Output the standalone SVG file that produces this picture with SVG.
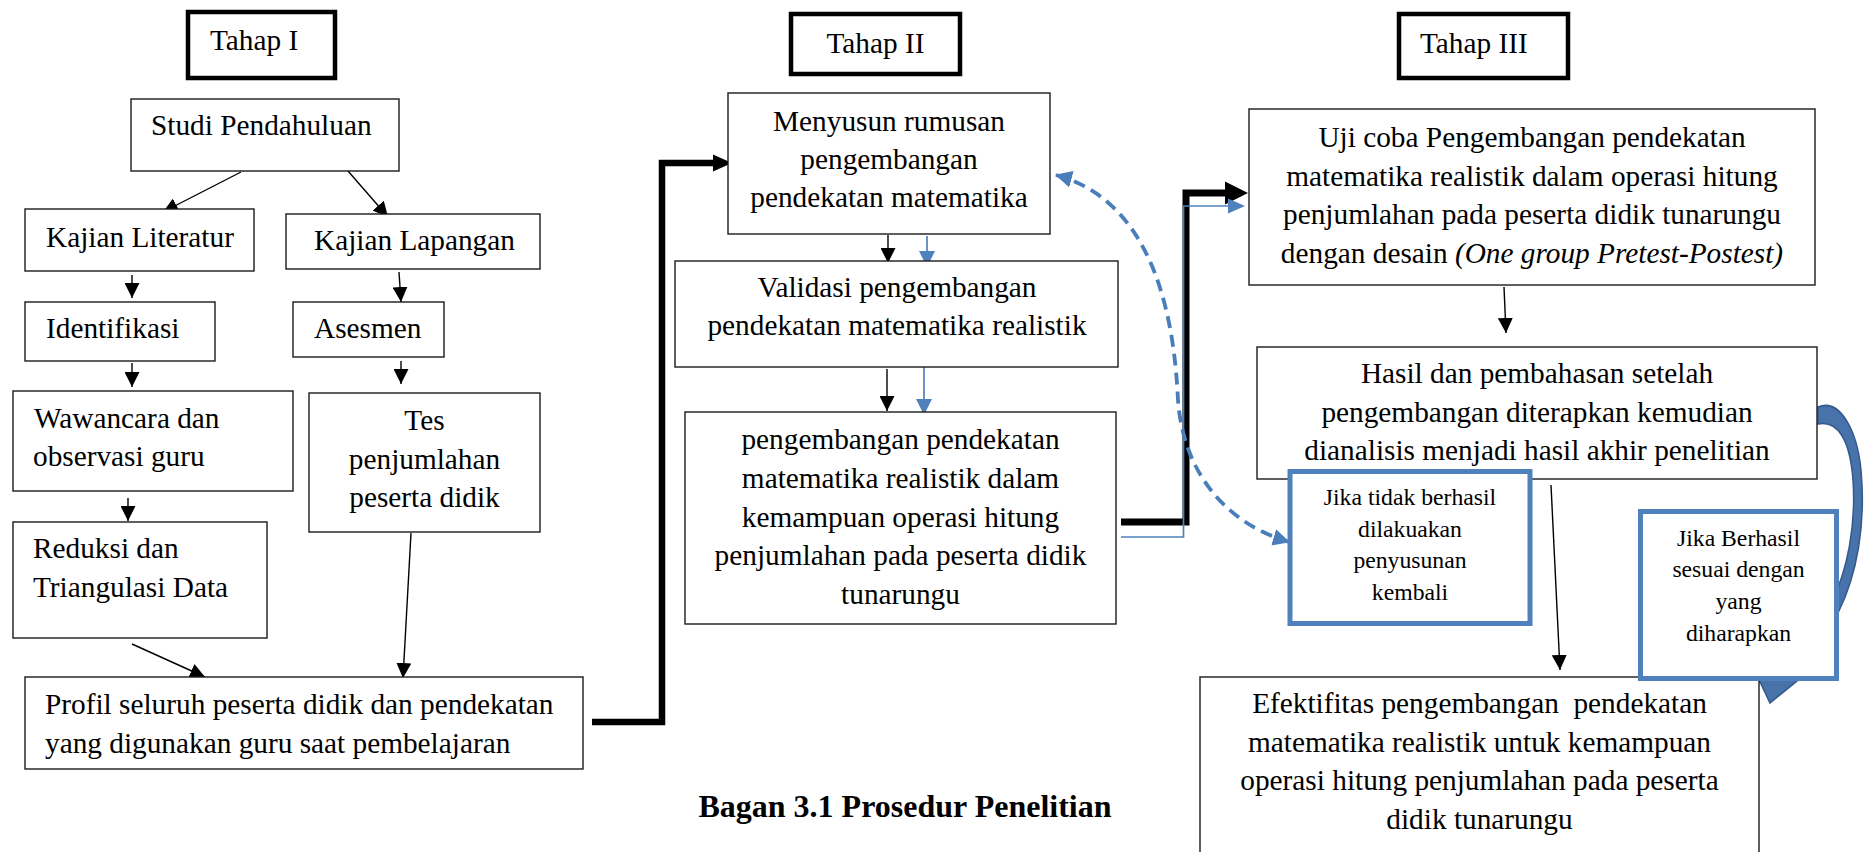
<svg xmlns="http://www.w3.org/2000/svg" width="1864" height="852" viewBox="0 0 1864 852">
<style>
.box{fill:#fff;stroke:#1a1a1a;stroke-width:1.4}
.tahap{fill:#fff;stroke:#000;stroke-width:4.5}
.bbox{fill:#fff;stroke:#4f81bd;stroke-width:5}
.t{font-family:"Liberation Serif","Times New Roman",serif;font-size:29.3px;fill:#000}
.ts{font-size:23.7px}
.c{text-anchor:middle}
.ln{fill:none;stroke:#000;stroke-width:1.4}
.bl{fill:none;stroke:#4f81bd;stroke-width:1.7}
.thick{fill:none;stroke:#000;stroke-linejoin:miter}
.dash{fill:none;stroke:#4a7ebb;stroke-width:3.8;stroke-dasharray:12 7}
</style>
<defs>
<marker id="ah" markerUnits="userSpaceOnUse" viewBox="0 0 15 15" markerWidth="15" markerHeight="15" refX="15" refY="7.5" orient="auto"><path d="M0,0 L15,7.5 L0,15 z" fill="#000"/></marker>
<marker id="ahb" markerUnits="userSpaceOnUse" viewBox="0 0 16 16" markerWidth="16" markerHeight="16" refX="16" refY="8" orient="auto"><path d="M0,0 L16,8 L0,16 z" fill="#4f81bd"/></marker>
<marker id="ahd" markerUnits="userSpaceOnUse" viewBox="0 0 17 17" markerWidth="17" markerHeight="17" refX="16" refY="8.5" orient="auto-start-reverse"><path d="M0,0 L17,8.5 L0,17 z" fill="#4a7ebb"/></marker>
</defs>

<g id="connectors">
  <!-- Tahap I -->
  <path class="ln" d="M241,172 L163,212" marker-end="url(#ah)"/>
  <path class="ln" d="M348,171 L388,217" marker-end="url(#ah)"/>
  <path class="ln" d="M132,275 L132,298" marker-end="url(#ah)"/>
  <path class="ln" d="M399,272 L401,302" marker-end="url(#ah)"/>
  <path class="ln" d="M132,363 L132,387" marker-end="url(#ah)"/>
  <path class="ln" d="M401,361 L401,384" marker-end="url(#ah)"/>
  <path class="ln" d="M128,498 L128,521" marker-end="url(#ah)"/>
  <path class="ln" d="M132,644 L205,677" marker-end="url(#ah)"/>
  <path class="ln" d="M411,533 L403,678" marker-end="url(#ah)"/>
  <!-- Profil to Menyusun -->
  <path class="thick" stroke-width="6.5" d="M592,722 H662 V163 H714"/>
  <polygon points="713,154.5 732,163 713,171.5" fill="#000"/>
  <!-- Tahap II -->
  <path class="ln" d="M888,235 L888,263" marker-end="url(#ah)"/>
  <path class="bl" d="M927,236 L927,267" marker-end="url(#ahb)"/>
  <path class="ln" d="M887,369 L887,411" marker-end="url(#ah)"/>
  <path class="bl" d="M924,367 L924,415" marker-end="url(#ahb)"/>
  <!-- to Tahap III -->
  <path class="thick" stroke-width="7" d="M1121,522 H1186 V193 H1226"/>
  <polygon points="1225,181.5 1248,193 1225,204.5" fill="#000"/>
  <path class="bl" d="M1121,537 H1183.5 V206 H1230"/>
  <polygon points="1228,198.5 1245,206 1228,213.5" fill="#4f81bd"/>
  <!-- dashed feedback -->
  <path class="dash" d="M1056,175 C1130,195 1172,270 1178,400 C1182,460 1215,520 1289,542" marker-start="url(#ahd)" marker-end="url(#ahd)"/>
  <!-- Tahap III -->
  <path class="ln" d="M1504,287 L1506,333" marker-end="url(#ah)"/>
  <path class="ln" d="M1551,485 L1560,670" marker-end="url(#ah)"/>
  <!-- curved success arrow -->
  <path d="M1818,407 C1840,398 1857,430 1861,470 C1866,525 1857,575 1838,613 L1805,668 L1808,672 L1770,703 L1752,665 L1794,664 L1830,606 C1848,570 1856,525 1853,480 C1850,440 1838,420 1818,424 Z" fill="#4772aa" stroke="#345a8c" stroke-width="1.5"/>
</g>

<g id="tahap1">
  <rect class="tahap" x="188" y="12" width="147" height="66"/>
  <text class="t" x="210" y="50">Tahap I</text>
</g>
<g id="tahap2">
  <rect class="tahap" x="791" y="14" width="169" height="60"/>
  <text class="t c" x="875.5" y="53">Tahap II</text>
</g>
<g id="tahap3">
  <rect class="tahap" x="1399" y="14" width="169" height="64"/>
  <text class="t" x="1420" y="53">Tahap III</text>
</g>

<g id="studi">
  <rect class="box" x="131" y="99" width="268" height="72"/>
  <text class="t" x="151" y="135">Studi Pendahuluan</text>
</g>
<g id="kajian-literatur">
  <rect class="box" x="25" y="209" width="229" height="62"/>
  <text class="t" x="46" y="247">Kajian Literatur</text>
</g>
<g id="kajian-lapangan">
  <rect class="box" x="286" y="214" width="254" height="55"/>
  <text class="t" x="314" y="250">Kajian Lapangan</text>
</g>
<g id="identifikasi">
  <rect class="box" x="25" y="302" width="190" height="59"/>
  <text class="t" x="46" y="338">Identifikasi</text>
</g>
<g id="asesmen">
  <rect class="box" x="293" y="302" width="151" height="55"/>
  <text class="t" x="314" y="338">Asesmen</text>
</g>
<g id="wawancara">
  <rect class="box" x="13" y="391" width="280" height="100"/>
  <text class="t" x="34" y="428">Wawancara dan</text>
  <text class="t" x="33" y="466">observasi guru</text>
</g>
<g id="tes">
  <rect class="box" x="309" y="393" width="231" height="139"/>
  <text class="t c" x="424.5" y="430">Tes</text>
  <text class="t c" x="424.5" y="468.5">penjumlahan</text>
  <text class="t c" x="424.5" y="507">peserta didik</text>
</g>
<g id="reduksi">
  <rect class="box" x="13" y="522" width="254" height="116"/>
  <text class="t" x="33" y="558">Reduksi dan</text>
  <text class="t" x="33" y="597">Triangulasi Data</text>
</g>
<g id="profil">
  <rect class="box" x="25" y="677" width="558" height="92"/>
  <text class="t" x="45" y="714">Profil seluruh peserta didik dan pendekatan</text>
  <text class="t" x="45" y="753">yang digunakan guru saat pembelajaran</text>
</g>

<g id="menyusun">
  <rect class="box" x="728" y="93" width="322" height="141"/>
  <text class="t c" x="889" y="131">Menyusun rumusan</text>
  <text class="t c" x="889" y="169">pengembangan</text>
  <text class="t c" x="889" y="207">pendekatan matematika</text>
</g>
<g id="validasi">
  <rect class="box" x="675" y="261" width="443" height="106"/>
  <text class="t c" x="897" y="297">Validasi pengembangan</text>
  <text class="t c" x="897" y="335">pendekatan matematika realistik</text>
</g>
<g id="pengembangan">
  <rect class="box" x="685" y="412" width="431" height="212"/>
  <text class="t c" x="900.5" y="449">pengembangan pendekatan</text>
  <text class="t c" x="900.5" y="488">matematika realistik dalam</text>
  <text class="t c" x="900.5" y="526.5">kemampuan operasi hitung</text>
  <text class="t c" x="900.5" y="565">penjumlahan pada peserta didik</text>
  <text class="t c" x="900.5" y="603.5">tunarungu</text>
</g>

<g id="ujicoba">
  <rect class="box" x="1249" y="109" width="566" height="176"/>
  <text class="t c" x="1532" y="147">Uji coba Pengembangan pendekatan</text>
  <text class="t c" x="1532" y="185.5">matematika realistik dalam operasi hitung</text>
  <text class="t c" x="1532" y="224">penjumlahan pada peserta didik tunarungu</text>
  <text class="t c" x="1532" y="262.5">dengan desain <tspan font-style="italic">(One group Pretest-Postest)</tspan></text>
</g>
<g id="hasil">
  <rect class="box" x="1257" y="347" width="560" height="132"/>
  <text class="t c" x="1537" y="383">Hasil dan pembahasan setelah</text>
  <text class="t c" x="1537" y="421.5">pengembangan diterapkan kemudian</text>
  <text class="t c" x="1537" y="460">dianalisis menjadi hasil akhir penelitian</text>
</g>
<g id="jika-tidak">
  <rect class="bbox" x="1290" y="471.5" width="240" height="152"/>
  <text class="t ts c" x="1410" y="505">Jika tidak berhasil</text>
  <text class="t ts c" x="1410" y="537">dilakuakan</text>
  <text class="t ts c" x="1410" y="568">penyusunan</text>
  <text class="t ts c" x="1410" y="600">kembali</text>
</g>
<g id="efektifitas">
  <rect class="box" x="1200" y="677" width="559" height="200"/>
  <text class="t c" x="1479.5" y="713">Efektifitas pengembangan&#160; pendekatan</text>
  <text class="t c" x="1479.5" y="751.5">matematika realistik untuk kemampuan</text>
  <text class="t c" x="1479.5" y="790">operasi hitung penjumlahan pada peserta</text>
  <text class="t c" x="1479.5" y="828.5">didik tunarungu</text>
</g>
<g id="jika-berhasil">
  <rect class="bbox" x="1640.5" y="511.5" width="196" height="167"/>
  <text class="t ts c" x="1738.5" y="545.5">Jika Berhasil</text>
  <text class="t ts c" x="1738.5" y="577">sesuai dengan</text>
  <text class="t ts c" x="1738.5" y="609">yang</text>
  <text class="t ts c" x="1738.5" y="640.5">diharapkan</text>
</g>

<g id="caption">
  <text class="t c" x="905" y="817" font-weight="bold" style="font-size:32px">Bagan 3.1 Prosedur Penelitian</text>
</g>
</svg>
